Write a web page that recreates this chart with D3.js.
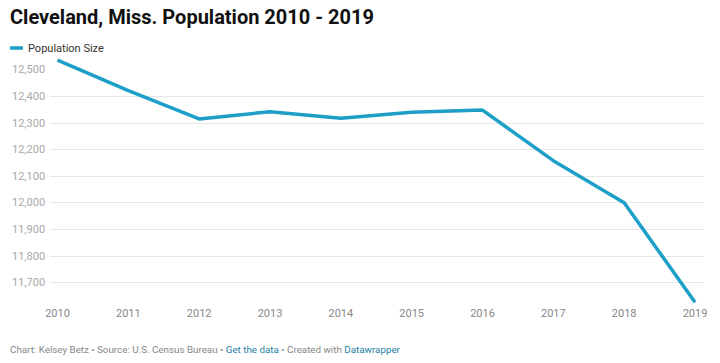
<!DOCTYPE html>
<html>
<head>
<meta charset="utf-8">
<script src="https://cdn.jsdelivr.net/npm/d3@7"></script>
<style>
  body { margin: 0; background: #fff; font-family: Roboto, "Noto Sans", sans-serif; }
  svg text { font-family: Roboto, "Noto Sans", sans-serif; }
</style>
</head>
<body>
<svg id="chart"></svg>
<script>
// chart values
const years = [2010, 2011, 2012, 2013, 2014, 2015, 2016, 2017, 2018, 2019];
const population = [12535, 12420, 12314, 12341, 12316, 12339, 12347, 12157, 11999, 11625];
const yTicks = [11700, 11800, 11900, 12000, 12100, 12200, 12300, 12400, 12500];
const gridTicks = [11700, 11800, 11900, 12000, 12100, 12200, 12300, 12400];

const width = 720;
const height = 363;
const lineColor = '#1d9fc8';

const svg = d3.select('#chart')
    .attr('width', width)
    .attr('height', height);

// title
svg.append('text')
    .attr('x', 10)
    .attr('y', 24)
    .attr('font-size', '20px')
    .attr('font-weight', 'bold')
    .attr('fill', '#111')
    .text('Cleveland, Miss. Population 2010 - 2019');

// legend
svg.append('line')
    .attr('x1', 10)
    .attr('x2', 23)
    .attr('y1', 48)
    .attr('y2', 48)
    .attr('stroke', lineColor)
    .attr('stroke-width', 3.5);

svg.append('text')
    .attr('x', 28)
    .attr('y', 52)
    .attr('font-size', '11px')
    .attr('fill', '#333')
    .text('Population Size');

// scales
const x = d3.scalePoint()
    .domain(years)
    .range([57.5, 695]);

const y = d3.scaleLinear()
    .domain([11700, 12500])
    .range([282.3, 69.4]);

// gridlines
svg.append('g')
    .selectAll('line')
    .data(gridTicks)
    .join('line')
    .attr('x1', 50)
    .attr('x2', 703)
    .attr('y1', d => Math.round(y(d)) + 0.5)
    .attr('y2', d => Math.round(y(d)) + 0.5)
    .attr('stroke', '#e6e6e6')
    .attr('stroke-width', 1);

// y labels
svg.append('g')
    .selectAll('text')
    .data(yTicks)
    .join('text')
    .attr('x', 12)
    .attr('y', d => y(d) + 4)
    .attr('font-size', '11px')
    .attr('fill', '#a8a8a8')
    .text(d => d3.format(',')(d));

// x labels
svg.append('g')
    .selectAll('text')
    .data(years)
    .join('text')
    .attr('x', d => x(d))
    .attr('y', 317)
    .attr('text-anchor', 'middle')
    .attr('font-size', '11px')
    .attr('fill', '#888')
    .text(d => d);

// the line
const line = d3.line()
    .x((d, i) => x(years[i]))
    .y(d => y(d));

svg.append('path')
    .datum(population)
    .attr('d', line)
    .attr('fill', 'none')
    .attr('stroke', lineColor)
    .attr('stroke-width', 3.5)
    .attr('stroke-linejoin', 'round');

// footer
const footer = svg.append('text')
    .attr('x', 10)
    .attr('y', 353)
    .attr('font-size', '9.8px')
    .attr('fill', '#888');

footer.append('tspan').text('Chart: Kelsey Betz • Source: U.S. Census Bureau • ');
footer.append('tspan').attr('fill', '#1d81a2').text('Get the data');
footer.append('tspan').text(' • Created with ');
footer.append('tspan').attr('fill', '#1d81a2').text('Datawrapper');
</script>
</body>
</html>
